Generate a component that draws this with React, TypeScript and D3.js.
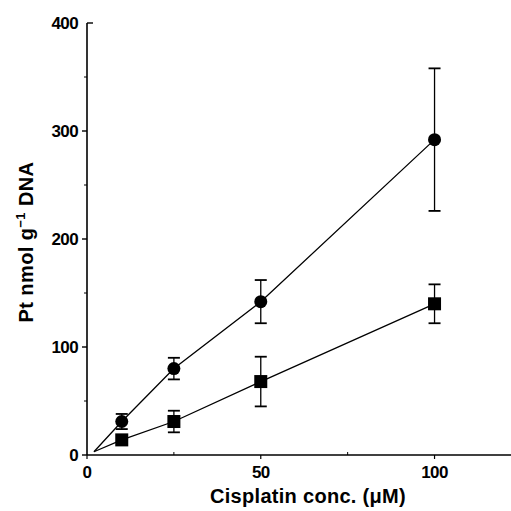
import React, { useRef, useEffect } from 'react';
import * as d3 from 'd3';

// cisplatin concentration (uM)
const conc = [10, 25, 50, 100];
// circles series
const circleMean = [31, 80, 142, 292];
const circleErr = [7, 10, 20, 66];
// squares series
const squareMean = [14, 31, 68, 140];
const squareErr = [0, 10, 23, 18];
// fitted lines start near the origin
const lineStart = [2, 3];

const yMajor = [0, 100, 200, 300, 400];
const yMinor = [50, 150, 250, 350];
const xMajor = [0, 50, 100];
const xMinor = [25, 75];

function App() {
  const svgRef = useRef(null);

  useEffect(() => {
    const svg = d3.select(svgRef.current);
    svg.selectAll('*').remove();

    const x = d3.scaleLinear().domain([0, 122]).range([87, 511]);
    const y = d3.scaleLinear().domain([0, 400]).range([455, 23]);
    const font = '"Liberation Sans", Arial, sans-serif';

    // axes
    svg.append('line').attr('x1', x(0)).attr('x2', x(0)).attr('y1', y(0)).attr('y2', y(400))
      .attr('stroke', '#000').attr('stroke-width', 1.6);
    svg.append('line').attr('x1', x(0)).attr('x2', x(122)).attr('y1', y(0)).attr('y2', y(0))
      .attr('stroke', '#000').attr('stroke-width', 1.6);

    svg.selectAll('.ymaj').data(yMajor).join('line')
      .attr('x1', (d) => (d === 400 ? x(0) + 6 : x(0) - 5)).attr('x2', x(0))
      .attr('y1', (d) => y(d)).attr('y2', (d) => y(d))
      .attr('stroke', '#000').attr('stroke-width', 1.4);
    svg.selectAll('.ymin').data(yMinor).join('line')
      .attr('x1', x(0) - 3).attr('x2', x(0))
      .attr('y1', (d) => y(d)).attr('y2', (d) => y(d))
      .attr('stroke', '#000').attr('stroke-width', 1);
    svg.selectAll('.xmaj').data(xMajor).join('line')
      .attr('x1', (d) => x(d)).attr('x2', (d) => x(d))
      .attr('y1', y(0)).attr('y2', y(0) + 4)
      .attr('stroke', '#000').attr('stroke-width', 1.2);
    svg.selectAll('.xmin').data(xMinor).join('line')
      .attr('x1', (d) => x(d)).attr('x2', (d) => x(d))
      .attr('y1', y(0)).attr('y2', y(0) - 3)
      .attr('stroke', '#000').attr('stroke-width', 1);

    svg.selectAll('.ylab').data(yMajor).join('text')
      .attr('x', x(0) - 9).attr('y', (d) => y(d)).attr('dy', '0.36em')
      .attr('text-anchor', 'end').attr('font-family', font).attr('font-weight', 'bold')
      .attr('font-size', 17).attr('letter-spacing', -0.6).text((d) => d);
    svg.selectAll('.xlab').data(xMajor).join('text')
      .attr('x', (d) => x(d)).attr('y', y(0) + 23)
      .attr('text-anchor', 'middle').attr('font-family', font).attr('font-weight', 'bold')
      .attr('font-size', 17).attr('letter-spacing', -0.6).text((d) => d);

    svg.append('text').attr('x', 308).attr('y', 503).attr('text-anchor', 'middle')
      .attr('font-family', font).attr('font-weight', 'bold').attr('font-size', 20)
      .attr('letter-spacing', 0.3)
      .text('Cisplatin conc. (\u03bcM)');

    const yl = svg.append('text').attr('transform', 'translate(33,242) rotate(-90)')
      .attr('text-anchor', 'middle').attr('font-family', font).attr('font-weight', 'bold')
      .attr('font-size', 20).attr('letter-spacing', 0.4);
    yl.append('tspan').text('Pt nmol g');
    yl.append('tspan').attr('font-size', 13).attr('dy', -8).text('\u22121');
    yl.append('tspan').attr('dy', 8).text(' DNA');

    const line = d3.line().x((d) => x(d[0])).y((d) => y(d[1]));

    const series = [
      { mean: circleMean, err: circleErr, shape: 'circle' },
      { mean: squareMean, err: squareErr, shape: 'square' },
    ];

    series.forEach((s) => {
      const pts = [lineStart, ...conc.map((c, i) => [c, s.mean[i]])];
      svg.append('path').attr('d', line(pts)).attr('fill', 'none')
        .attr('stroke', '#000').attr('stroke-width', 1.3);

      conc.forEach((c, i) => {
        const e = s.err[i];
        if (e > 0) {
          const g = svg.append('g').attr('stroke', '#000').attr('stroke-width', 1.3);
          g.append('line').attr('x1', x(c)).attr('x2', x(c))
            .attr('y1', y(s.mean[i] - e)).attr('y2', y(s.mean[i] + e));
          [s.mean[i] - e, s.mean[i] + e].forEach((v) => {
            g.append('line').attr('x1', x(c) - 6).attr('x2', x(c) + 6)
              .attr('y1', y(v)).attr('y2', y(v)).attr('stroke-width', 1.8);
          });
        }
        if (s.shape === 'circle') {
          svg.append('circle').attr('cx', x(c)).attr('cy', y(s.mean[i])).attr('r', 6.5)
            .attr('fill', '#000');
        } else {
          svg.append('rect').attr('x', x(c) - 6.5).attr('y', y(s.mean[i]) - 6.5)
            .attr('width', 13).attr('height', 13).attr('fill', '#000');
        }
      });
    });
  }, []);

  return (
    <svg ref={svgRef} width={511} height={511}
      style={{ position: 'absolute', left: 0, top: 0, background: '#fff' }}></svg>
  );
}

export default App;
